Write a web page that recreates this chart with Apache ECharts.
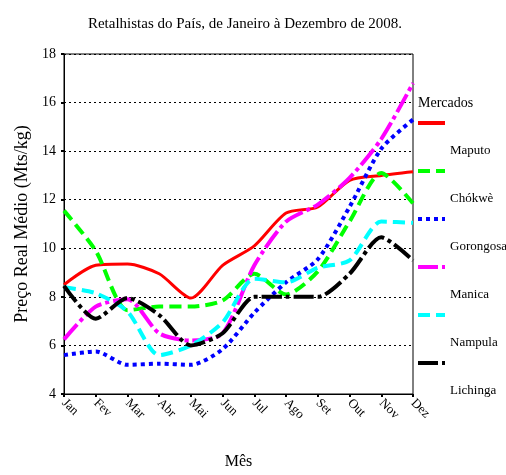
<!DOCTYPE html>
<html>
<head>
<meta charset="utf-8">
<script src="https://cdn.jsdelivr.net/npm/echarts@6/dist/echarts.min.js"></script>
<style>
  html, body { margin: 0; padding: 0; background: #fff; }
  #chart { width: 506px; height: 475px; }
</style>
</head>
<body>
<div id="chart"></div>
<script>
// meses (eixo x)
const months = ['Jan', 'Fev', 'Mar', 'Abr', 'Mai', 'Jun', 'Jul', 'Ago', 'Set', 'Out', 'Nov', 'Dez']
// preços por mercado (Mts/kg)
const maputo = [8.5, 9.3, 9.35, 8.95, 7.95, 9.3, 10.1, 11.45, 11.7, 12.8, 13.0, 13.15]
const chokwe = [11.55, 9.9, 7.45, 7.6, 7.6, 7.85, 8.95, 8.1, 9.05, 11.1, 13.1, 11.85]
const gorongosa = [5.6, 5.75, 5.2, 5.25, 5.2, 5.85, 7.35, 8.6, 9.55, 11.7, 14.1, 15.3]
const manica = [6.25, 7.6, 7.9, 6.5, 6.2, 6.5, 9.3, 11.1, 11.8, 12.9, 14.5, 16.8]
const nampula = [8.4, 8.15, 7.4, 5.6, 6.0, 6.95, 8.75, 8.6, 9.2, 9.5, 11.1, 11.05]
const lichinga = [8.45, 7.1, 7.95, 7.25, 6.0, 6.5, 8.0, 8.0, 8.0, 8.95, 10.45, 9.5]
const mercados = ['Maputo', 'Chókwè', 'Gorongosa', 'Manica', 'Nampula', 'Lichinga']

const serif = '"Liberation Serif", "DejaVu Serif", serif'

const chart = echarts.init(document.getElementById('chart'))

function mkSeries(name, data, color, width, dash) {
  return {
    name: name,
    type: 'line',
    data: data,
    smooth: 0.25,
    // simbolo sem area (so um traço) para a legenda mostrar so a linha
    symbol: 'path://M0,0L10,10',
    showSymbol: false,
    animation: false,
    lineStyle: { color: color, width: width, type: dash },
    itemStyle: { color: color, borderWidth: 0 }
  }
}

// uma legenda por mercado: amostra em cima, nome por baixo (como no original)
const legends = mercados.map((name, i) => {
  return {
    data: [name],
    orient: 'vertical',
    left: 416,
    top: 81 + i * 48,
    padding: 0,
    itemWidth: 27,
    itemHeight: 12,
    lineStyle: { width: 4 },
    formatter: n => '\n\n' + n,
    textStyle: { fontFamily: serif, fontSize: 13, color: '#000', lineHeight: 28 }
  }
})

chart.setOption({
  backgroundColor: '#fff',
  title: [
    {
      text: 'Retalhistas do País, de Janeiro à Dezembro de 2008.',
      left: 240,
      top: 12,
      textAlign: 'center',
      textStyle: { fontFamily: serif, fontSize: 15, fontWeight: 'normal', color: '#000' }
    },
    {
      text: 'Mercados',
      left: 413,
      top: 91,
      textStyle: { fontFamily: serif, fontSize: 14, fontWeight: 'normal', color: '#000' }
    }
  ],
  legend: legends,
  grid: {
    left: 64,
    right: 93,
    top: 54,
    bottom: 75,
    show: true,
    borderColor: '#000',
    borderWidth: 1
  },
  xAxis: {
    type: 'category',
    data: months,
    boundaryGap: false,
    name: 'Mês',
    nameLocation: 'middle',
    nameGap: 60,
    nameTextStyle: { fontFamily: serif, fontSize: 16, color: '#000' },
    axisLine: { lineStyle: { color: '#000', width: 1 } },
    axisTick: { show: true, length: 3, interval: 0, lineStyle: { color: '#000', width: 2 } },
    axisLabel: { rotate: -45, margin: 7, interval: 0, fontFamily: serif, fontSize: 13, color: '#000' },
    splitLine: { show: false }
  },
  yAxis: {
    type: 'value',
    min: 4,
    max: 18,
    interval: 2,
    name: 'Preço Real Médio (Mts/kg)',
    nameLocation: 'middle',
    nameGap: 33,
    nameTextStyle: { fontFamily: serif, fontSize: 18, color: '#000' },
    axisLine: { show: true, lineStyle: { color: '#000', width: 1 } },
    axisTick: { show: true, length: 3, lineStyle: { color: '#000', width: 2 } },
    axisLabel: { margin: 8, fontFamily: serif, fontSize: 14, color: '#000' },
    splitLine: { show: true, lineStyle: { color: '#000', width: 1, type: [2, 3] } }
  },
  series: [
    mkSeries('Maputo', maputo, '#ff0000', 3, 'solid'),
    mkSeries('Chókwè', chokwe, '#00ff00', 4, [12, 6]),
    mkSeries('Gorongosa', gorongosa, '#0000ff', 4, [4, 4]),
    mkSeries('Manica', manica, '#ff00ff', 4, [20, 4, 4, 4]),
    mkSeries('Nampula', nampula, '#00ffff', 4, [12, 6]),
    mkSeries('Lichinga', lichinga, '#000000', 4, [20, 4, 4, 4])
  ]
})
</script>
</body>
</html>
